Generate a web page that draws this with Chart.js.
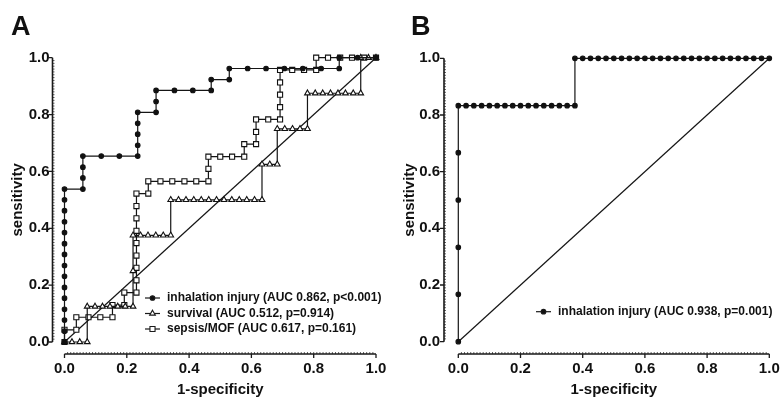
<!DOCTYPE html>
<html>
<head>
<meta charset="utf-8">
<script src="https://cdn.jsdelivr.net/npm/chart.js@4.4.1/dist/chart.umd.min.js"></script>
<style>
  html, body { margin: 0; padding: 0; background: #fff; }
  .wrap { display: flex; width: 781px; height: 403px; }
  canvas { display: block; }
</style>
</head>
<body>
<div class="wrap">
  <canvas id="roc-a" width="390" height="403"></canvas>
  <canvas id="roc-b" width="391" height="403"></canvas>
</div>
<script>
// ROC curves, points as [1-specificity, sensitivity]
const inhalationA = [
  [0, 0], [0, 0.038], [0, 0.077], [0, 0.115], [0, 0.154], [0, 0.192], [0, 0.231], [0, 0.269],
  [0, 0.308], [0, 0.346], [0, 0.385], [0, 0.423], [0, 0.462], [0, 0.5], [0, 0.538],
  [0.059, 0.538], [0.059, 0.577], [0.059, 0.615], [0.059, 0.654],
  [0.118, 0.654], [0.176, 0.654], [0.235, 0.654],
  [0.235, 0.692], [0.235, 0.731], [0.235, 0.769], [0.235, 0.808],
  [0.294, 0.808], [0.294, 0.846], [0.294, 0.885],
  [0.353, 0.885], [0.412, 0.885], [0.471, 0.885], [0.471, 0.923],
  [0.529, 0.923], [0.529, 0.962],
  [0.588, 0.962], [0.647, 0.962], [0.706, 0.962], [0.765, 0.962], [0.824, 0.962], [0.882, 0.962],
  [0.882, 1], [0.941, 1], [1, 1]
];
const survivalA = [
  [0, 0], [0.024, 0], [0.049, 0], [0.073, 0],
  [0.073, 0.125], [0.098, 0.125], [0.122, 0.125], [0.146, 0.125], [0.171, 0.125], [0.195, 0.125], [0.22, 0.125],
  [0.22, 0.25],
  [0.22, 0.375], [0.244, 0.375], [0.268, 0.375], [0.293, 0.375], [0.317, 0.375], [0.341, 0.375],
  [0.341, 0.5], [0.366, 0.5], [0.39, 0.5], [0.415, 0.5], [0.439, 0.5], [0.463, 0.5], [0.488, 0.5],
  [0.512, 0.5], [0.537, 0.5], [0.561, 0.5], [0.585, 0.5], [0.61, 0.5], [0.634, 0.5],
  [0.634, 0.625], [0.659, 0.625], [0.683, 0.625],
  [0.683, 0.75], [0.707, 0.75], [0.732, 0.75], [0.756, 0.75], [0.78, 0.75],
  [0.78, 0.875], [0.805, 0.875], [0.829, 0.875], [0.854, 0.875], [0.878, 0.875], [0.902, 0.875], [0.927, 0.875], [0.951, 0.875],
  [0.951, 1], [0.976, 1], [1, 1]
];
const sepsisA = [
  [0, 0], [0, 0.043], [0.038, 0.043], [0.038, 0.087],
  [0.077, 0.087], [0.115, 0.087], [0.154, 0.087], [0.154, 0.13],
  [0.192, 0.13], [0.192, 0.174], [0.231, 0.174],
  [0.231, 0.217], [0.231, 0.261], [0.231, 0.304], [0.231, 0.348], [0.231, 0.391], [0.231, 0.435], [0.231, 0.478], [0.231, 0.522],
  [0.269, 0.522], [0.269, 0.565],
  [0.308, 0.565], [0.346, 0.565], [0.385, 0.565], [0.423, 0.565], [0.462, 0.565],
  [0.462, 0.609], [0.462, 0.652],
  [0.5, 0.652], [0.538, 0.652], [0.577, 0.652],
  [0.577, 0.696], [0.615, 0.696],
  [0.615, 0.739], [0.615, 0.783],
  [0.654, 0.783], [0.692, 0.783],
  [0.692, 0.826], [0.692, 0.87], [0.692, 0.913], [0.692, 0.957],
  [0.731, 0.957], [0.769, 0.957], [0.808, 0.957],
  [0.808, 1], [0.846, 1], [0.885, 1], [0.923, 1], [0.962, 1], [1, 1]
];
const inhalationB = [
  [0, 0], [0, 0.167], [0, 0.333], [0, 0.5], [0, 0.667], [0, 0.833],
  [0.025, 0.833], [0.05, 0.833], [0.075, 0.833], [0.1, 0.833], [0.125, 0.833], [0.15, 0.833], [0.175, 0.833],
  [0.2, 0.833], [0.225, 0.833], [0.25, 0.833], [0.275, 0.833], [0.3, 0.833], [0.325, 0.833], [0.35, 0.833], [0.375, 0.833],
  [0.375, 1], [0.4, 1], [0.425, 1], [0.45, 1], [0.475, 1], [0.5, 1], [0.525, 1], [0.55, 1], [0.575, 1],
  [0.6, 1], [0.625, 1], [0.65, 1], [0.675, 1], [0.7, 1], [0.725, 1], [0.75, 1], [0.775, 1], [0.8, 1],
  [0.825, 1], [0.85, 1], [0.875, 1], [0.9, 1], [0.925, 1], [0.95, 1], [0.975, 1], [1, 1]
];
const chanceLine = [[0, 0], [1, 1]];

const labelsA = [
  'inhalation injury (AUC 0.862, p<0.001)',
  'survival (AUC 0.512, p=0.914)',
  'sepsis/MOF (AUC 0.617, p=0.161)'
];
const labelsB = ['inhalation injury (AUC 0.938, p=0.001)'];
const axisTicks = [0, 0.2, 0.4, 0.6, 0.8, 1.0];

const FONT = "'Liberation Sans', Arial, sans-serif";
const INK = '#111';
Chart.defaults.font.family = FONT;
Chart.defaults.color = INK;

function series(label, pts, style, radius, fill) {
  return {
    label,
    data: pts.map(([x, y]) => ({ x, y })),
    showLine: true,
    borderColor: '#151515',
    borderWidth: 1.2,
    pointStyle: style,
    pointRadius: radius,
    pointBackgroundColor: fill,
    pointBorderColor: INK,
    pointBorderWidth: 1.1,
    clip: false
  };
}

function chance() {
  return {
    label: '',
    data: chanceLine.map(([x, y]) => ({ x, y })),
    showLine: true,
    borderColor: '#151515',
    borderWidth: 1.2,
    pointRadius: 0,
    clip: false
  };
}

function marker(ctx, style, r, fill, x, y) {
  ctx.beginPath();
  if (style === 'circle') {
    ctx.arc(x, y, r, 0, Math.PI * 2);
  } else if (style === 'triangle') {
    ctx.moveTo(x, y - r);
    ctx.lineTo(x + r * 0.866, y + r / 2);
    ctx.lineTo(x - r * 0.866, y + r / 2);
    ctx.closePath();
  } else {
    const s = r * Math.SQRT1_2;
    ctx.rect(x - s, y - s, 2 * s, 2 * s);
  }
  ctx.fillStyle = fill;
  ctx.fill();
  ctx.lineWidth = 1.1;
  ctx.stroke();
}

// Prism-style axes set off from the data, panel letter and in-plot legend
const rocDecor = {
  id: 'rocDecor',
  afterDraw(chart, args, opts) {
    const { ctx, chartArea: area, scales: { x, y } } = chart;
    const ax = area.left - opts.gapX;
    const ay = area.bottom + opts.gapY;
    ctx.save();
    ctx.strokeStyle = '#1a1a1a';

    ctx.lineWidth = 1.6;
    ctx.beginPath();
    ctx.moveTo(ax, y.getPixelForValue(0));
    ctx.lineTo(ax, y.getPixelForValue(1));
    ctx.moveTo(x.getPixelForValue(0), ay);
    ctx.lineTo(x.getPixelForValue(1), ay);
    ctx.stroke();

    ctx.lineWidth = 1.3;
    ctx.beginPath();
    y.ticks.forEach(t => {
      const p = y.getPixelForValue(t.value);
      ctx.moveTo(ax - 4, p); ctx.lineTo(ax, p);
    });
    x.ticks.forEach(t => {
      const p = x.getPixelForValue(t.value);
      ctx.moveTo(p, ay); ctx.lineTo(p, ay + 4);
    });
    ctx.stroke();

    // minor ticks
    ctx.lineWidth = 0.7;
    ctx.beginPath();
    for (let i = 1; i < 100; i++) {
      const py = y.getPixelForValue(i / 100);
      ctx.moveTo(ax, py); ctx.lineTo(ax + 2, py);
      const px = x.getPixelForValue(i / 100);
      ctx.moveTo(px, ay); ctx.lineTo(px, ay - 2);
    }
    ctx.stroke();

    ctx.fillStyle = INK;
    ctx.font = `bold 27px ${FONT}`;
    ctx.textBaseline = 'alphabetic';
    ctx.textAlign = 'left';
    ctx.fillText(opts.letter, opts.letterX, 35);

    ctx.font = `bold 12px ${FONT}`;
    ctx.textBaseline = 'middle';
    let row = 0;
    chart.data.datasets.forEach(ds => {
      if (!ds.label) return;
      const ly = opts.legendY + row * opts.legendGap;
      const lx = opts.legendX;
      ctx.strokeStyle = '#1a1a1a';
      ctx.lineWidth = 1.2;
      ctx.beginPath();
      ctx.moveTo(lx, ly); ctx.lineTo(lx + 15, ly);
      ctx.stroke();
      marker(ctx, ds.pointStyle, ds.pointRadius, ds.pointBackgroundColor, lx + 7.5, ly);
      ctx.fillStyle = INK;
      ctx.fillText(ds.label, lx + 22, ly);
      row++;
    });
    ctx.restore();
  }
};

function rocChart(id, datasets, cfg) {
  const tickFont = { size: 15, weight: 'bold' };
  const titleFont = { size: 15, weight: 'bold' };
  return new Chart(document.getElementById(id), {
    type: 'scatter',
    data: { datasets },
    plugins: [rocDecor],
    options: {
      responsive: false,
      animation: false,
      events: [],
      layout: { padding: { top: cfg.top, right: cfg.right, left: 0, bottom: 0 } },
      plugins: {
        legend: { display: false },
        tooltip: { enabled: false },
        rocDecor: cfg.decor
      },
      scales: {
        x: {
          type: 'linear', min: 0, max: 1,
          grid: { display: false, drawTicks: false },
          border: { display: false },
          afterBuildTicks: s => { s.ticks = axisTicks.map(v => ({ value: v })); },
          ticks: { font: tickFont, padding: cfg.xPad, maxRotation: 0, callback: v => v.toFixed(1) },
          title: { display: true, text: '1-specificity', font: titleFont, padding: { top: 0, bottom: 4 } },
          afterFit: s => { s.height = cfg.xHeight; s.paddingLeft = 0; s.paddingRight = 0; }
        },
        y: {
          type: 'linear', min: 0, max: 1,
          grid: { display: false, drawTicks: false },
          border: { display: false },
          afterBuildTicks: s => { s.ticks = axisTicks.map(v => ({ value: v })); },
          ticks: { font: tickFont, padding: cfg.yPad, callback: v => v.toFixed(1) },
          title: { display: true, text: 'sensitivity', font: titleFont, padding: { top: cfg.yTitlePad, bottom: 0 } },
          afterFit: s => { s.width = cfg.yWidth; s.paddingTop = 0; s.paddingBottom = 0; }
        }
      }
    }
  });
}

rocChart('roc-a', [
  series(labelsA[0], inhalationA, 'circle', 2.3, INK),
  series(labelsA[1], survivalA, 'triangle', 3.3, '#fff'),
  series(labelsA[2], sepsisA, 'rect', 3.6, '#fff'),
  chance()
], {
  top: 57.7, right: 14, xHeight: 61, yWidth: 64.5, xPad: 18, yPad: 15, yTitlePad: 9,
  decor: { gapX: 12, gapY: 12, letter: 'A', letterX: 11, legendX: 145, legendY: 298, legendGap: 15.5 }
});

rocChart('roc-b', [
  series(labelsB[0], inhalationB, 'circle', 2.3, INK),
  chance()
], {
  top: 58.3, right: 11.7, xHeight: 61.3, yWidth: 68.3, xPad: 18, yPad: 18.3, yTitlePad: 10.5,
  decor: { gapX: 14.3, gapY: 12.3, letter: 'B', letterX: 21, legendX: 146, legendY: 311.7, legendGap: 15.5 }
});
</script>
</body>
</html>
